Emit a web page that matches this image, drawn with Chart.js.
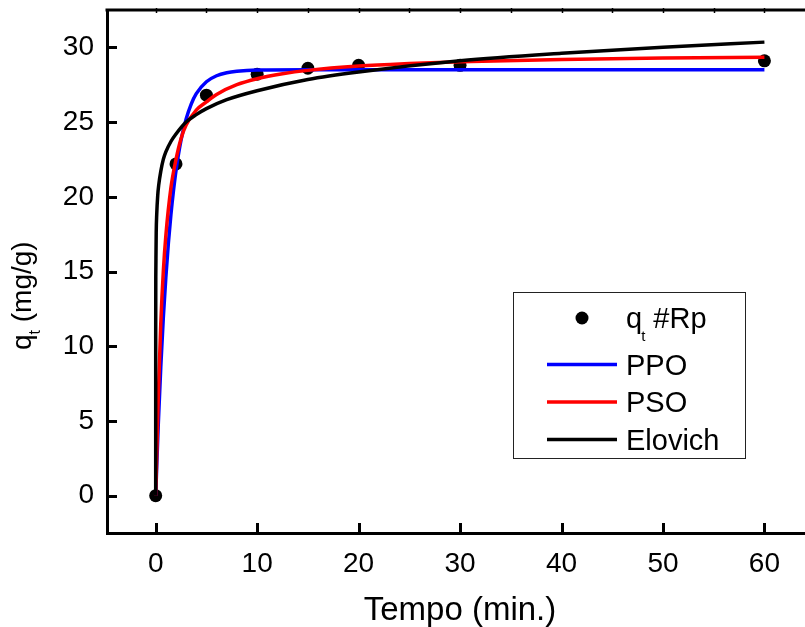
<!DOCTYPE html>
<html>
<head>
<meta charset="utf-8">
<script src="https://cdn.jsdelivr.net/npm/chart.js@4"></script>
<style>
  html, body { margin: 0; padding: 0; background: #fff; overflow: hidden; }
  canvas { display: block; }
</style>
</head>
<body>
<canvas id="kineticsChart" width="805" height="627"></canvas>
<script>
// measured adsorption capacity
const tempo = [0, 2, 5, 10, 15, 20, 30, 60];
const qtRp = [0, 22.2, 26.8, 28.2, 28.6, 28.8, 28.8, 29.1];

// pseudo first order fit
const tPPO = [0, 0.25, 0.5, 0.75, 1, 1.25, 1.5, 1.75, 2, 2.5, 3, 3.5, 4, 5, 6, 7, 8, 10, 15, 20, 30, 40, 50, 60];
const qPPO = [0, 4.7, 8.6, 11.9, 14.6, 16.9, 18.8, 20.4, 21.75, 23.8, 25.2, 26.2, 26.9, 27.7, 28.1, 28.3, 28.4, 28.48, 28.5, 28.5, 28.5, 28.5, 28.5, 28.5];

// pseudo second order fit
const tPSO = [0, 0.25, 0.5, 0.75, 1, 1.5, 2, 2.5, 3, 4, 5, 6, 8, 10, 12.5, 15, 20, 25, 30, 40, 50, 60];
const qPSO = [0, 6.5, 11.5, 15.0, 17.4, 20.6, 22.5, 23.9, 24.8, 25.8, 26.35, 26.85, 27.5, 27.9, 28.23, 28.46, 28.75, 28.92, 29.04, 29.19, 29.28, 29.34];

// Elovich fit
const tElov = [0, 0.001, 0.01, 0.05, 0.1, 0.2, 0.3, 0.5, 0.75, 1, 1.5, 2, 3, 4, 5, 7, 10, 15, 20, 30, 40, 50, 60];
const qElov = [0, 10.5, 14.7, 17.6, 18.8, 20.1, 20.8, 21.7, 22.5, 23.0, 23.7, 24.2, 25.0, 25.5, 25.9, 26.5, 27.1, 27.85, 28.35, 29.1, 29.6, 30.0, 30.35];

const xTicks = [0, 10, 20, 30, 40, 50, 60];
const yTicks = [0, 5, 10, 15, 20, 25, 30];

const FONT = "'Liberation Sans', Arial, sans-serif";

function toPoints(xs, ys) {
    return xs.map((x, i) => ({ x: x, y: ys[i] }));
}

function fitLine(label, xs, ys, color) {
    return {
        label: label,
        data: toPoints(xs, ys),
        showLine: true,
        borderColor: color,
        backgroundColor: color,
        borderWidth: 3.5,
        pointRadius: 0,
        cubicInterpolationMode: 'monotone'
    };
}

// draws the frame, inward ticks, axis titles and the boxed legend
const decorations = {
    id: 'decorations',
    afterDraw(chart) {
        const ctx = chart.ctx;
        const area = chart.chartArea;
        const xs = chart.scales.x;
        const ys = chart.scales.y;
        ctx.save();
        ctx.strokeStyle = '#000';
        ctx.lineCap = 'butt';

        // top frame line
        ctx.lineWidth = 3;
        ctx.beginPath();
        ctx.moveTo(area.left - 1.5, area.top);
        ctx.lineTo(area.right, area.top);
        ctx.stroke();

        // small ticks on the top line
        ctx.lineWidth = 1.5;
        for (let v = 0; v <= 60; v += 5) {
            const px = Math.round(xs.getPixelForValue(v)) + 0.5;
            ctx.beginPath();
            ctx.moveTo(px, area.top - 2);
            ctx.lineTo(px, area.top + 3);
            ctx.stroke();
        }

        // major ticks pointing into the plot
        ctx.lineWidth = 3;
        xTicks.forEach(v => {
            const px = Math.round(xs.getPixelForValue(v)) + 0.5;
            ctx.beginPath();
            ctx.moveTo(px, area.bottom);
            ctx.lineTo(px, area.bottom - 10);
            ctx.stroke();
        });
        yTicks.forEach(v => {
            const py = Math.round(ys.getPixelForValue(v)) + 0.5;
            ctx.beginPath();
            ctx.moveTo(area.left, py);
            ctx.lineTo(area.left + 10, py);
            ctx.stroke();
        });

        ctx.fillStyle = '#000';
        ctx.textBaseline = 'alphabetic';

        // x title
        ctx.font = '33px ' + FONT;
        ctx.textAlign = 'center';
        ctx.fillText('Tempo (min.)', 460, 620);

        // y title with subscript
        ctx.save();
        ctx.translate(31, 350);
        ctx.rotate(-Math.PI / 2);
        ctx.textAlign = 'left';
        ctx.font = '28px ' + FONT;
        ctx.fillText('q', 0, 0);
        let w = ctx.measureText('q').width;
        ctx.font = '16px ' + FONT;
        ctx.fillText('t', w, 9);
        w += ctx.measureText('t').width;
        ctx.font = '28px ' + FONT;
        ctx.fillText(' (mg/g)', w, 0);
        ctx.restore();

        // legend box
        const box = { left: 513, top: 292, right: 745, bottom: 458 };
        ctx.lineWidth = 1;
        ctx.strokeStyle = '#222';
        ctx.strokeRect(box.left + 0.5, box.top + 0.5, box.right - box.left, box.bottom - box.top);

        const textX = 626;
        ctx.textAlign = 'left';

        // marker entry
        ctx.beginPath();
        ctx.arc(582, 318, 6.5, 0, Math.PI * 2);
        ctx.fill();
        ctx.font = '29px ' + FONT;
        ctx.fillText('q', textX, 328);
        let lw = ctx.measureText('q').width;
        ctx.font = '15px ' + FONT;
        ctx.fillText('t', textX + lw - 1, 341);
        lw += ctx.measureText('t').width;
        ctx.font = '29px ' + FONT;
        ctx.fillText(' #Rp', textX + lw - 1, 328);

        // line entries
        const rows = [
            { label: 'PPO', baseline: 374.5 },
            { label: 'PSO', baseline: 412 },
            { label: 'Elovich', baseline: 449.5 }
        ];
        rows.forEach(r => {
            const ds = chart.data.datasets.find(d => d.label === r.label);
            const ly = r.baseline - 10;
            ctx.strokeStyle = ds.borderColor;
            ctx.lineWidth = 3.5;
            ctx.beginPath();
            ctx.moveTo(547, ly);
            ctx.lineTo(617, ly);
            ctx.stroke();
            ctx.font = '29px ' + FONT;
            ctx.fillText(r.label, textX, r.baseline);
        });

        ctx.restore();
    }
};

const ctx = document.getElementById('kineticsChart').getContext('2d');
new Chart(ctx, {
    type: 'scatter',
    data: {
        datasets: [
            fitLine('Elovich', tElov, qElov, '#000000'),
            fitLine('PSO', tPSO, qPSO, '#ff0000'),
            fitLine('PPO', tPPO, qPPO, '#0000ff'),
            {
                label: 'qt #Rp',
                data: toPoints(tempo, qtRp),
                showLine: false,
                pointRadius: 6.5,
                pointBackgroundColor: '#000',
                pointBorderWidth: 0
            }
        ]
    },
    options: {
        responsive: false,
        animation: false,
        layout: {
            autoPadding: false,
            padding: { top: 10, right: 0, left: 0, bottom: 0 }
        },
        plugins: {
            legend: { display: false },
            tooltip: { enabled: false }
        },
        scales: {
            x: {
                type: 'linear',
                min: -4.8,
                max: 64,
                afterFit(scale) {
                    scale.height = 94;
                    scale.paddingLeft = 0;
                    scale.paddingRight = 0;
                },
                afterBuildTicks(scale) { scale.ticks = xTicks.map(v => ({ value: v })); },
                grid: { display: false, drawTicks: false },
                border: { display: true, color: '#000', width: 3 },
                ticks: {
                    color: '#000',
                    padding: 14,
                    maxRotation: 0,
                    font: { family: FONT, size: 28 }
                }
            },
            y: {
                type: 'linear',
                min: -2.5,
                max: 32.5,
                afterFit(scale) {
                    scale.width = 107;
                    scale.paddingTop = 0;
                    scale.paddingBottom = 0;
                },
                afterBuildTicks(scale) { scale.ticks = yTicks.map(v => ({ value: v })); },
                grid: { display: false, drawTicks: false },
                border: { display: true, color: '#000', width: 3 },
                ticks: {
                    color: '#000',
                    padding: 13,
                    font: { family: FONT, size: 28 }
                }
            }
        }
    },
    plugins: [decorations]
});
</script>
</body>
</html>
